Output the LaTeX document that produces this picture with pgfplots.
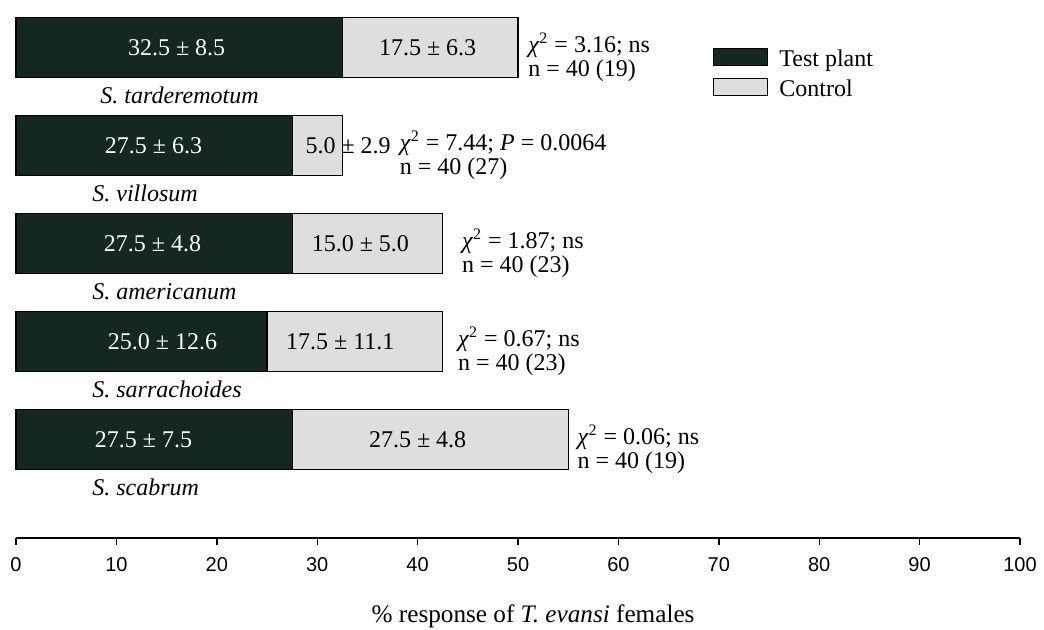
\documentclass[border=0pt]{standalone}
\usepackage{fontspec}
\setmainfont{Liberation Serif}
\setsansfont{Liberation Sans}
\usepackage{pgfplots}
\pgfplotsset{compat=1.18}
\definecolor{darkbar}{RGB}{22,38,32}
\definecolor{lightbar}{RGB}{222,222,222}
\newcommand\chisq{\textit{χ}\textsuperscript{2}}
\tikzset{lbl/.style={inner sep=0pt}}
\begin{document}
\begin{tikzpicture}[font=\fontsize{12}{12}\selectfont]
\begin{axis}[
  at={(0,0)}, anchor=south west,
  scale only axis, width=502pt, height=269pt,
  xmin=0, xmax=100, ymin=-1.005, ymax=4.485,
  xbar stacked, bar width=30pt,
  axis x line*=bottom, axis y line=none,
  xtick={0,10,...,100}, ytick=\empty,
  tick align=outside, major tick length=3.5pt,
  x axis line style={line width=0.7pt},
  tick style={line width=0.7pt, black},
  xticklabel style={font=\sffamily\fontsize{10}{12}\selectfont, yshift=-2.5pt},
  /pgf/number format/assume math mode=true,
  clip=false,
  legend style={at={(axis cs:69.4,4.026)}, anchor=north west, draw=none, fill=none,
    inner sep=0pt, row sep=1.5pt, font=\fontsize{12}{12}\selectfont,
    /tikz/every odd column/.append style={column sep=3.5pt}},
  legend cell align=left,
  legend image code/.code={\draw[#1,line width=0.6pt] (0pt,-3pt) rectangle (27pt,5.5pt);},
]
\addplot[fill=darkbar, draw=black, line width=0.6pt] coordinates {(32.5,4) (27.5,3) (27.5,2) (25.0,1) (27.5,0)};
\addlegendentry{Test plant}
\addplot[fill=lightbar, draw=black, line width=0.6pt] coordinates {(17.5,4) (5.0,3) (15.0,2) (17.5,1) (27.5,0)};
\addlegendentry{Control}

\coordinate (d1) at (axis cs:16.0,4);
\coordinate (d2) at (axis cs:13.7,3);
\coordinate (d3) at (axis cs:13.6,2);
\coordinate (d4) at (axis cs:14.6,1);
\coordinate (d5) at (axis cs:12.7,0);
\coordinate (l1) at (axis cs:41.0,4);
\coordinate (l2) at (axis cs:28.8,3);
\coordinate (l3) at (axis cs:34.3,2);
\coordinate (l4) at (axis cs:32.3,1);
\coordinate (l5) at (axis cs:40.0,0);
\coordinate (c1) at (axis cs:8.37,4);
\coordinate (c2) at (axis cs:7.57,3);
\coordinate (c3) at (axis cs:7.57,2);
\coordinate (c4) at (axis cs:7.57,1);
\coordinate (c5) at (axis cs:7.57,0);
\coordinate (s1) at (axis cs:51.0,4);
\coordinate (s2) at (axis cs:38.2,3);
\coordinate (s3) at (axis cs:44.4,2);
\coordinate (s4) at (axis cs:44.0,1);
\coordinate (s5) at (axis cs:55.9,0);
\coordinate (xl) at (axis cs:51.5,-1.005);
\end{axis}

\node[lbl,text=white] at (d1) {32.5 ± 8.5};
\node[lbl,text=white] at (d2) {27.5 ± 6.3};
\node[lbl,text=white] at (d3) {27.5 ± 4.8};
\node[lbl,text=white] at (d4) {25.0 ± 12.6};
\node[lbl,text=white] at (d5) {27.5 ± 7.5};
\node[lbl] at (l1) {17.5 ± 6.3};
\node[lbl,anchor=west] at (l2) {5.0 ± 2.9};
\node[lbl] at (l3) {15.0 ± 5.0};
\node[lbl] at (l4) {17.5 ± 11.1};
\node[lbl] at (l5) {27.5 ± 4.8};

\node[lbl,anchor=west, yshift=-24pt] at (c1) {\textit{S. tarderemotum}};
\node[lbl,anchor=west, yshift=-24pt] at (c2) {\textit{S. villosum}};
\node[lbl,anchor=west, yshift=-24pt] at (c3) {\textit{S. americanum}};
\node[lbl,anchor=west, yshift=-24pt] at (c4) {\textit{S. sarrachoides}};
\node[lbl,anchor=west, yshift=-24pt] at (c5) {\textit{S. scabrum}};

\node[lbl,anchor=west, align=left, yshift=-5pt] at (s1) {\chisq{} = 3.16; ns\\n = 40 (19)};
\node[lbl,anchor=west, align=left, yshift=-5pt] at (s2) {\chisq{} = 7.44; \textit{P} = 0.0064\\n = 40 (27)};
\node[lbl,anchor=west, align=left, yshift=-5pt] at (s3) {\chisq{} = 1.87; ns\\n = 40 (23)};
\node[lbl,anchor=west, align=left, yshift=-5pt] at (s4) {\chisq{} = 0.67; ns\\n = 40 (23)};
\node[lbl,anchor=west, align=left, yshift=-5pt] at (s5) {\chisq{} = 0.06; ns\\n = 40 (19)};

\node[lbl,yshift=-39pt,font=\fontsize{12.6}{13}\selectfont] at (xl) {\% response of \textit{T. evansi} females};

\pgfresetboundingbox
\path[use as bounding box] (-8pt,-46pt) rectangle (514pt,269pt);
\end{tikzpicture}
\end{document}
